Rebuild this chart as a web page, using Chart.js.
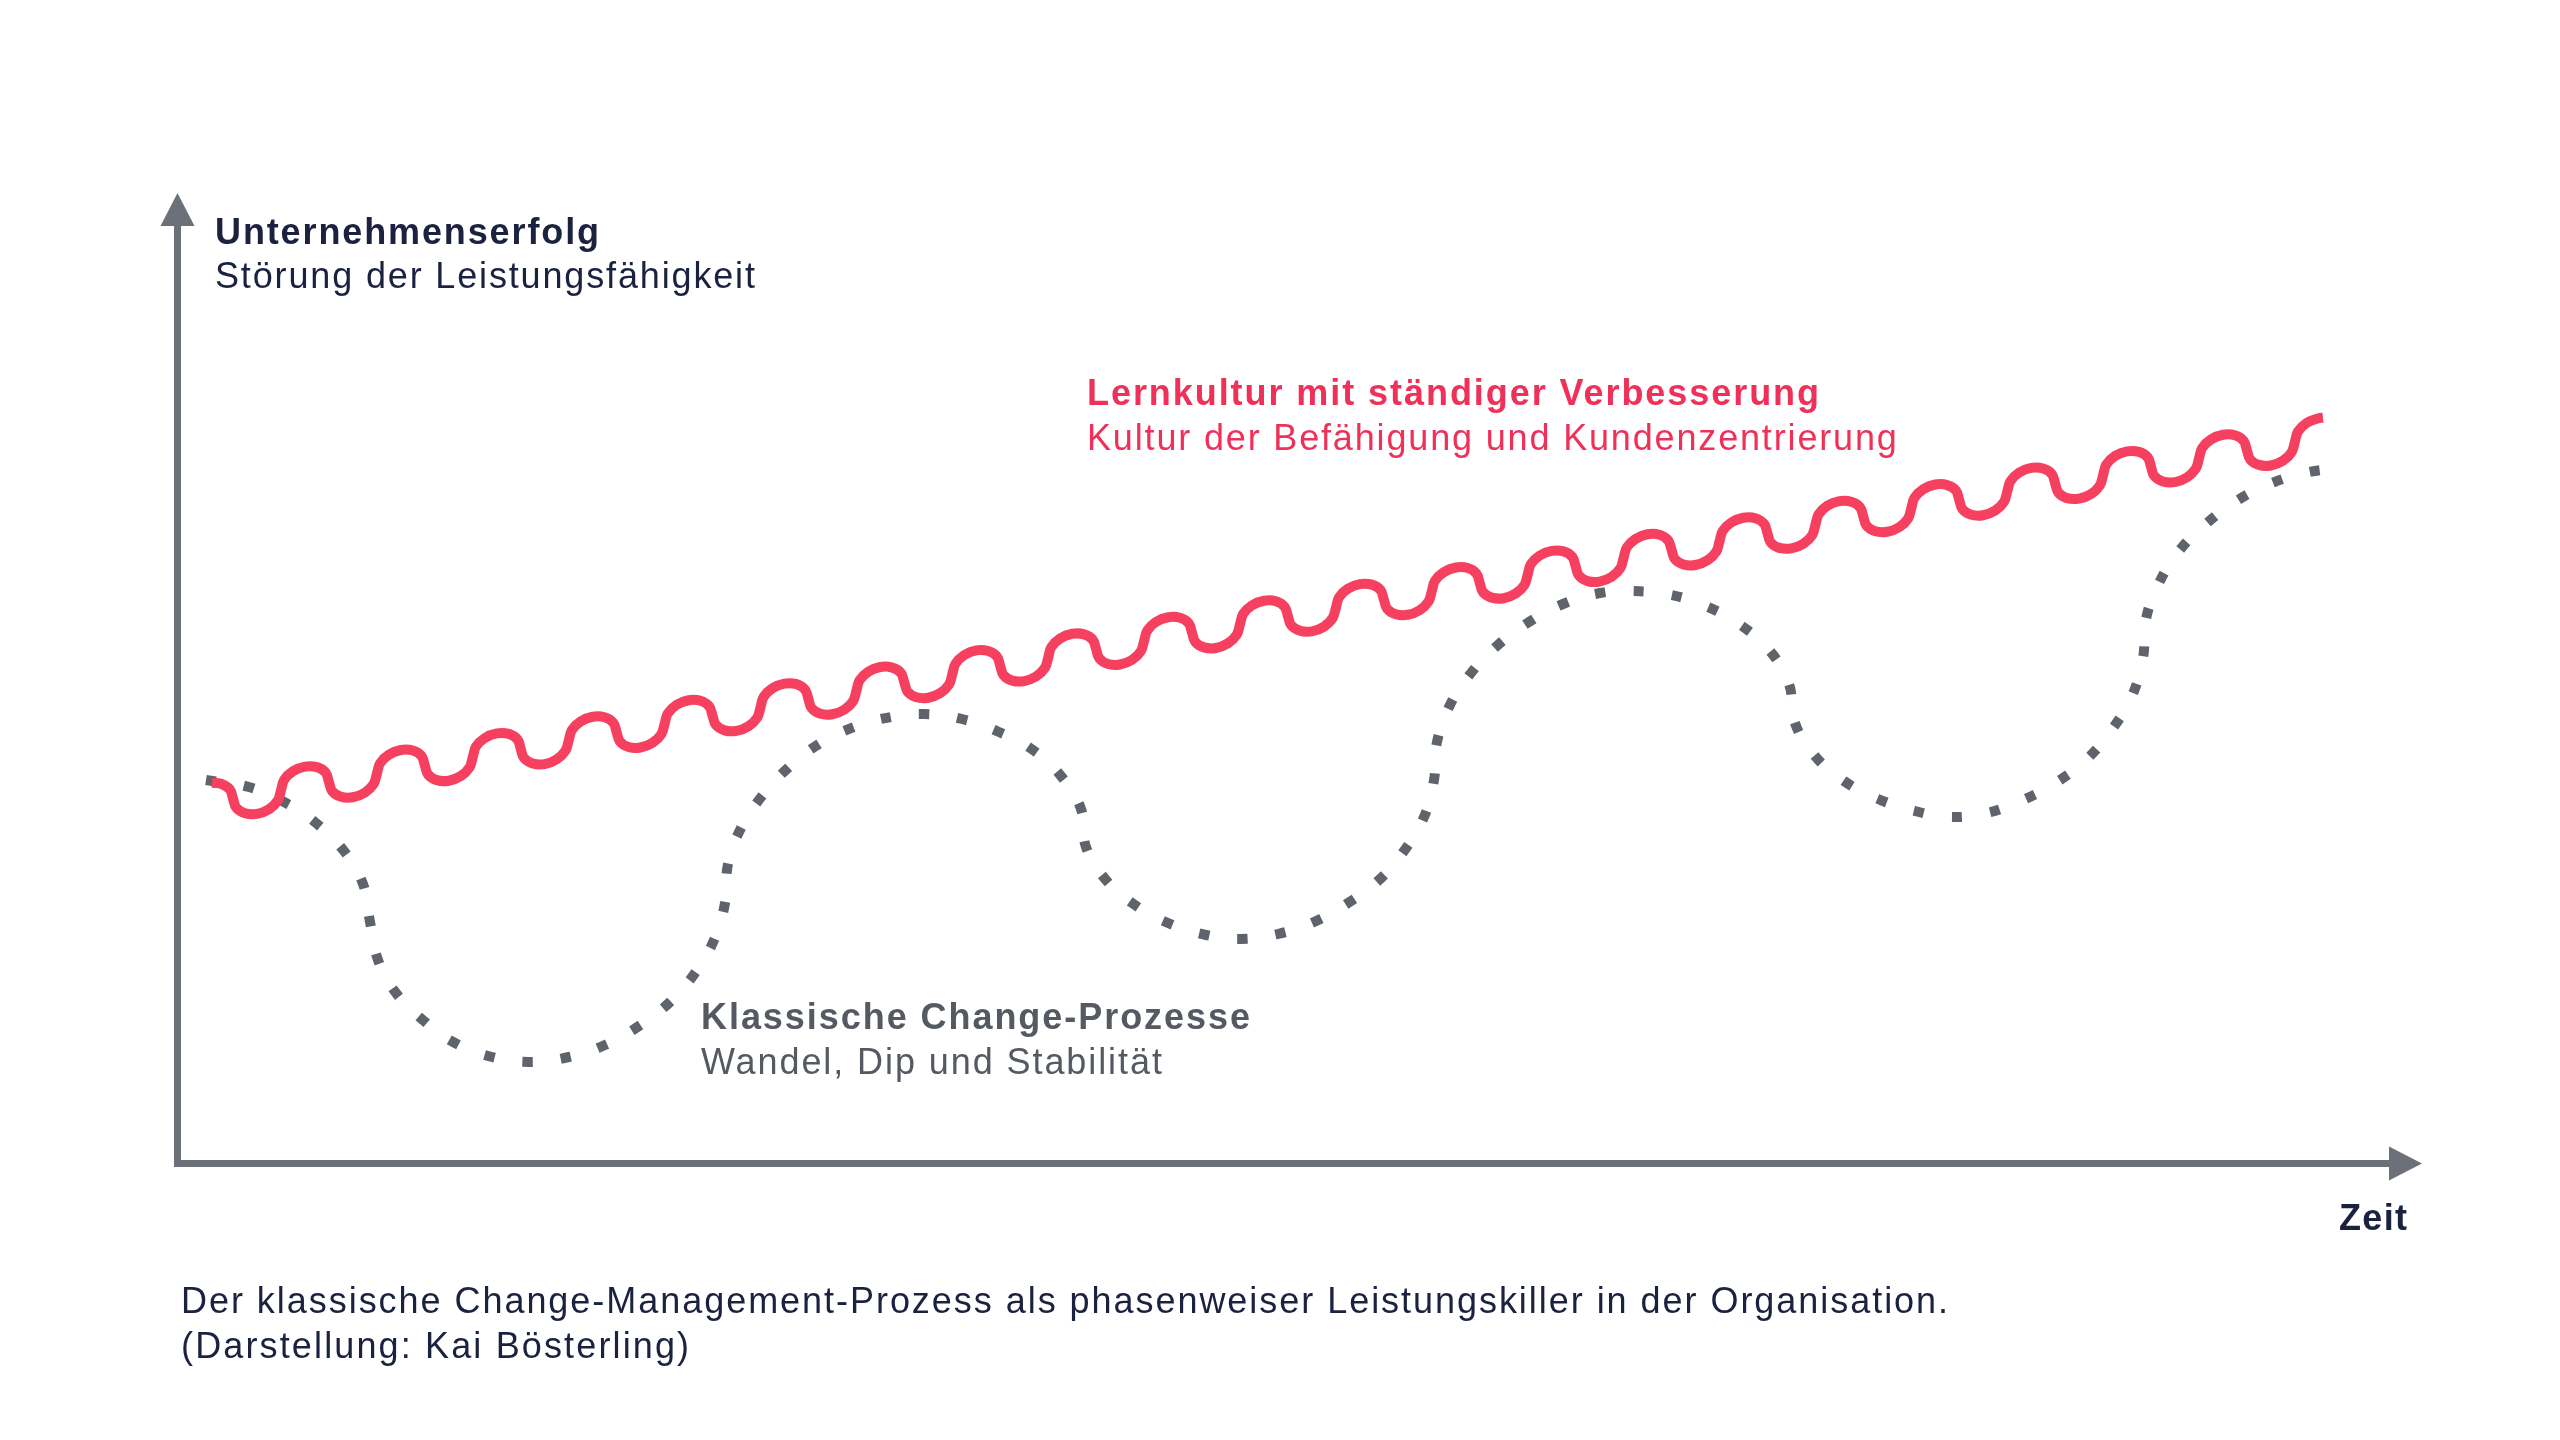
<!DOCTYPE html>
<html lang="de">
<head>
<meta charset="utf-8">
<title>Change-Management-Prozess</title>
<script src="https://cdn.jsdelivr.net/npm/chart.js@4.4.1/dist/chart.umd.min.js"></script>
<style>
    html, body { margin: 0; padding: 0; background: #ffffff; }
    #wrap { width: 2560px; height: 1440px; position: relative; }
</style>
</head>
<body>
<div id="wrap"><canvas id="changeChart"></canvas></div>
<script>
// Lernkultur: wavy line, steadily rising (Zeit / Unternehmenserfolg)
const lernZeit = [3.5,
    4.40, 5.28, 5.60, 5.92, 6.80, 8.00, 9.20, 10.08, 10.40, 10.71, 11.59, 12.79,
    13.99, 14.87, 15.19, 15.51, 16.39, 17.59, 18.79, 19.67, 19.99, 20.30, 21.18, 22.38,
    23.58, 24.46, 24.78, 25.10, 25.98, 27.18, 28.38, 29.26, 29.58, 29.89, 30.77, 31.97,
    33.17, 34.05, 34.37, 34.69, 35.57, 36.77, 37.97, 38.85, 39.17, 39.48, 40.36, 41.56,
    42.76, 43.64, 43.96, 44.28, 45.16, 46.36, 47.56, 48.44, 48.76, 49.07, 49.95, 51.15,
    52.35, 53.23, 53.55, 53.87, 54.75, 55.95, 57.15, 58.03, 58.35, 58.66, 59.54, 60.74,
    61.94, 62.82, 63.14, 63.46, 64.34, 65.54, 66.74, 67.62, 67.94, 68.25, 69.13, 70.33,
    71.53, 72.41, 72.73, 73.05, 73.93, 75.13, 76.33, 77.21, 77.53, 77.84, 78.72, 79.92,
    81.12, 82.00, 82.32, 82.64, 83.52, 84.72, 85.92, 86.80, 87.12, 87.43, 88.31, 89.51,
    90.71, 91.59, 91.91, 92.23, 93.11, 94.31, 95.51, 96.39, 96.71, 97.02, 97.90, 99.10,
    100.30, 101.18, 101.50, 101.82, 102.70, 103.90, 105.10, 105.98, 106.30, 106.61, 107.49, 108.69,
    109.89, 110.77, 111.09, 111.41, 112.29, 113.49, 114.69, 115.57, 115.89, 116.20, 117.08, 118.28,
    119.48, 120.36, 120.68, 121.00, 121.88, 123.08, 124.28, 125.16, 125.48, 125.79, 126.67, 127.87,
    129.07, 129.95, 130.27, 130.59, 131.47, 132.67, 133.87, 134.75, 135.07, 135.38, 136.26, 137.46,
    138.66, 139.54, 139.86, 140.18, 141.06, 142.26, 143.46, 144.34, 144.66, 144.97, 145.85, 147.05,
    148.25, 149.13, 149.45, 149.77, 150.65, 151.85, 153.05, 153.93, 154.25, 154.56, 155.44, 156.64,
    157.84, 158.72, 159.04, 159.36, 160.24, 161.44, 162.64, 163.52, 163.84, 164.15, 165.03, 166.23,
    167.43, 168.31, 168.63, 168.95, 169.83, 171.03, 172.23, 173.11, 173.43, 173.74, 174.62, 175.82,
    177.02, 177.90, 178.22, 178.54, 179.42, 180.62, 181.82, 182.70, 183.02, 183.33, 184.21, 185.41,
    186.61, 187.49, 187.81, 188.13, 189.01, 190.21, 191.41, 192.29, 192.61, 192.92, 193.80, 195.00,
    196.20, 197.08, 197.40, 197.72, 198.60, 199.80, 201.00, 201.88, 202.20, 202.51, 203.39, 204.59,
    205.79, 206.67, 206.99, 207.31, 208.19, 209.39, 210.59, 211.47, 211.79, 212.10, 212.98, 214.18,
    214.6];
const lernErfolg = [38.02,
    37.93, 37.37, 36.45, 35.53, 34.97, 34.91, 35.38, 36.25, 37.28, 38.31, 39.17, 39.64,
    39.59, 39.03, 38.11, 37.19, 36.63, 36.57, 37.04, 37.91, 38.94, 39.97, 40.83, 41.30,
    41.25, 40.69, 39.77, 38.85, 38.29, 38.23, 38.70, 39.57, 40.60, 41.63, 42.49, 42.96,
    42.91, 42.35, 41.43, 40.51, 39.95, 39.89, 40.36, 41.23, 42.26, 43.29, 44.15, 44.62,
    44.57, 44.01, 43.09, 42.17, 41.60, 41.55, 42.02, 42.89, 43.92, 44.94, 45.81, 46.28,
    46.23, 45.66, 44.74, 43.83, 43.26, 43.21, 43.68, 44.54, 45.58, 46.60, 47.47, 47.94,
    47.89, 47.32, 46.40, 45.48, 44.92, 44.87, 45.34, 46.20, 47.23, 48.26, 49.13, 49.60,
    49.54, 48.98, 48.06, 47.14, 46.58, 46.53, 47.00, 47.86, 48.89, 49.92, 50.79, 51.26,
    51.20, 50.64, 49.72, 48.80, 48.24, 48.19, 48.66, 49.52, 50.55, 51.58, 52.45, 52.92,
    52.86, 52.30, 51.38, 50.46, 49.90, 49.85, 50.31, 51.18, 52.21, 53.24, 54.11, 54.57,
    54.52, 53.96, 53.04, 52.12, 51.56, 51.50, 51.97, 52.84, 53.87, 54.90, 55.76, 56.23,
    56.18, 55.62, 54.70, 53.78, 53.22, 53.16, 53.63, 54.50, 55.53, 56.56, 57.42, 57.89,
    57.84, 57.28, 56.36, 55.44, 54.88, 54.82, 55.29, 56.16, 57.19, 58.22, 59.08, 59.55,
    59.50, 58.94, 58.02, 57.10, 56.54, 56.48, 56.95, 57.82, 58.85, 59.88, 60.74, 61.21,
    61.16, 60.60, 59.68, 58.76, 58.19, 58.14, 58.61, 59.48, 60.51, 61.53, 62.40, 62.87,
    62.82, 62.25, 61.33, 60.42, 59.85, 59.80, 60.27, 61.13, 62.17, 63.19, 64.06, 64.53,
    64.48, 63.91, 62.99, 62.07, 61.51, 61.46, 61.93, 62.79, 63.82, 64.85, 65.72, 66.19,
    66.13, 65.57, 64.65, 63.73, 63.17, 63.12, 63.59, 64.45, 65.48, 66.51, 67.38, 67.85,
    67.79, 67.23, 66.31, 65.39, 64.83, 64.78, 65.25, 66.11, 67.14, 68.17, 69.04, 69.51,
    69.45, 68.89, 67.97, 67.05, 66.49, 66.44, 66.90, 67.77, 68.80, 69.83, 70.70, 71.16,
    71.11, 70.55, 69.63, 68.71, 68.15, 68.09, 68.56, 69.43, 70.46, 71.49, 72.35, 72.82,
    72.77, 72.21, 71.29, 70.37, 69.81, 69.75, 70.22, 71.09, 72.12, 73.15, 74.01, 74.48,
    74.52];

// Klassische Change-Prozesse: dotted line with dips
const wandelZeit = [2.9, 7.2, 10.9, 13.9, 16.7, 18.6, 19.3, 20.1, 21.9, 24.7,
    27.8, 31.5, 35.3, 39.2, 42.8, 46.2, 49.3, 51.8, 53.7, 54.8,
    55.1, 56.4, 58.5, 61.1, 64.2, 67.7, 71.4, 74.7, 78.5, 82.2,
    85.6, 88.4, 90.4, 90.9, 92.9, 95.8, 99.1, 102.9, 106.4, 110.1,
    113.7, 117.1, 120.2, 122.7, 124.7, 125.7, 126.0, 127.3, 129.4, 132.1,
    135.2, 138.6, 142.3, 145.5, 149.4, 153.1, 156.5, 159.3, 161.2, 161.8,
    163.8, 166.7, 170.1, 173.8, 177.2, 181.0, 184.6, 188.0, 191.1, 193.6,
    195.5, 196.6, 196.9, 198.2, 200.2, 203.0, 206.1, 209.5, 213.2, 216.8];
const wandelErfolg = [38.3, 37.6, 36.0, 34.0, 31.2, 27.9, 24.1, 20.3, 17.0, 14.2,
    12.0, 10.6, 10.1, 10.6, 11.8, 13.7, 16.1, 19.0, 22.3, 26.0,
    29.9, 33.5, 36.7, 39.5, 41.9, 43.6, 44.6, 44.9, 44.4, 43.1,
    41.3, 38.7, 35.4, 31.6, 28.3, 25.8, 24.0, 22.8, 22.4, 22.9,
    24.1, 26.0, 28.3, 31.2, 34.6, 38.3, 42.1, 45.8, 49.0, 51.8,
    54.1, 55.9, 57.0, 57.2, 56.8, 55.6, 53.7, 51.2, 47.9, 44.0,
    40.7, 38.2, 36.4, 35.2, 34.6, 35.0, 36.3, 38.1, 40.5, 43.5,
    46.7, 50.5, 54.4, 58.0, 61.2, 64.0, 66.3, 68.0, 69.1, 69.5];

// axis range
const zeitMax = 224.5;
const erfolgMax = 97;

const NAVY = '#1a2240';
const AXIS = '#6c7079';
const GREY = '#5f646c';
const GREY_TEXT = '#555a62';
const RED = '#f5405f';
const RED_TEXT = '#ef3159';
const FONT = '"Liberation Sans", Arial, Helvetica, sans-serif';

// texts: [text, x, baseline, bold, colour, width]
const labels = [
    ['Unternehmenserfolg', 215, 244, true, NAVY, 384],
    ['Störung der Leistungsfähigkeit', 215, 288, false, NAVY, 540],
    ['Lernkultur mit ständiger Verbesserung', 1087, 405, true, RED_TEXT, 732],
    ['Kultur der Befähigung und Kundenzentrierung', 1087, 450, false, RED_TEXT, 810],
    ['Klassische Change-Prozesse', 701, 1029, true, GREY_TEXT, 549],
    ['Wandel, Dip und Stabilität', 701, 1074, false, GREY_TEXT, 461],
    ['Zeit', 2339, 1230, true, NAVY, 68],
    ['Der klassische Change-Management-Prozess als phasenweiser Leistungskiller in der Organisation.', 181, 1313, false, NAVY, 1767],
    ['(Darstellung: Kai Bösterling)', 181, 1358, false, NAVY, 508]
];

function toPoints(xs, ys) {
    return xs.map((x, i) => ({ x: x, y: ys[i] }));
}

const axesPlugin = {
    id: 'axesArrows',
    beforeDatasetsDraw(chart) {
        const ctx = chart.ctx;
        const xs = chart.scales.x;
        const ys = chart.scales.y;
        const x0 = xs.getPixelForValue(0) + 0.5;
        const y0 = ys.getPixelForValue(0) + 0.5;
        const xEnd = xs.getPixelForValue(zeitMax);
        const yEnd = ys.getPixelForValue(erfolgMax);
        const head = 33;
        const half = 17;

        ctx.save();
        ctx.strokeStyle = AXIS;
        ctx.fillStyle = AXIS;
        ctx.lineWidth = 7;
        ctx.lineJoin = 'miter';
        ctx.lineCap = 'butt';
        ctx.beginPath();
        ctx.moveTo(x0, yEnd + head - 1);
        ctx.lineTo(x0, y0);
        ctx.lineTo(xEnd - head + 1, y0);
        ctx.stroke();

        // arrow heads
        ctx.beginPath();
        ctx.moveTo(x0, yEnd);
        ctx.lineTo(x0 + half, yEnd + head);
        ctx.lineTo(x0 - half, yEnd + head);
        ctx.closePath();
        ctx.fill();

        ctx.beginPath();
        ctx.moveTo(xEnd, y0);
        ctx.lineTo(xEnd - head, y0 - half);
        ctx.lineTo(xEnd - head, y0 + half);
        ctx.closePath();
        ctx.fill();
        ctx.restore();
    },
    afterDraw(chart) {
        const ctx = chart.ctx;
        ctx.save();
        ctx.textBaseline = 'alphabetic';
        ctx.textAlign = 'left';
        labels.forEach(l => {
            ctx.font = (l[3] ? 'bold ' : '') + '36px ' + FONT;
            ctx.letterSpacing = '0px';
            const w = ctx.measureText(l[0]).width;
            const spacing = (l[5] - w) / Math.max(l[0].length - 1, 1);
            ctx.letterSpacing = spacing.toFixed(2) + 'px';
            ctx.fillStyle = l[4];
            ctx.fillText(l[0], l[1], l[2]);
        });
        ctx.restore();
    }
};

new Chart(document.getElementById('changeChart'), {
    type: 'line',
    data: {
        datasets: [
            {
                label: 'Lernkultur mit ständiger Verbesserung',
                data: toPoints(lernZeit, lernErfolg),
                borderColor: RED,
                borderWidth: 10,
                borderCapStyle: 'butt',
                borderJoinStyle: 'round',
                tension: 0.35,
                pointRadius: 0,
                fill: false,
                clip: false
            },
            {
                label: 'Klassische Change-Prozesse',
                data: toPoints(wandelZeit, wandelErfolg),
                borderColor: GREY,
                borderWidth: 10,
                borderDash: [10, 28.5],
                borderCapStyle: 'butt',
                tension: 0.4,
                pointRadius: 0,
                fill: false,
                clip: false
            }
        ]
    },
    options: {
        responsive: true,
        maintainAspectRatio: false,
        animation: false,
        layout: {
            padding: { left: 177, right: 138, top: 193, bottom: 277 }
        },
        plugins: {
            legend: { display: false },
            tooltip: { enabled: false }
        },
        scales: {
            x: { type: 'linear', min: 0, max: zeitMax, display: false },
            y: { type: 'linear', min: 0, max: erfolgMax, display: false }
        }
    },
    plugins: [axesPlugin]
});
</script>
</body>
</html>
